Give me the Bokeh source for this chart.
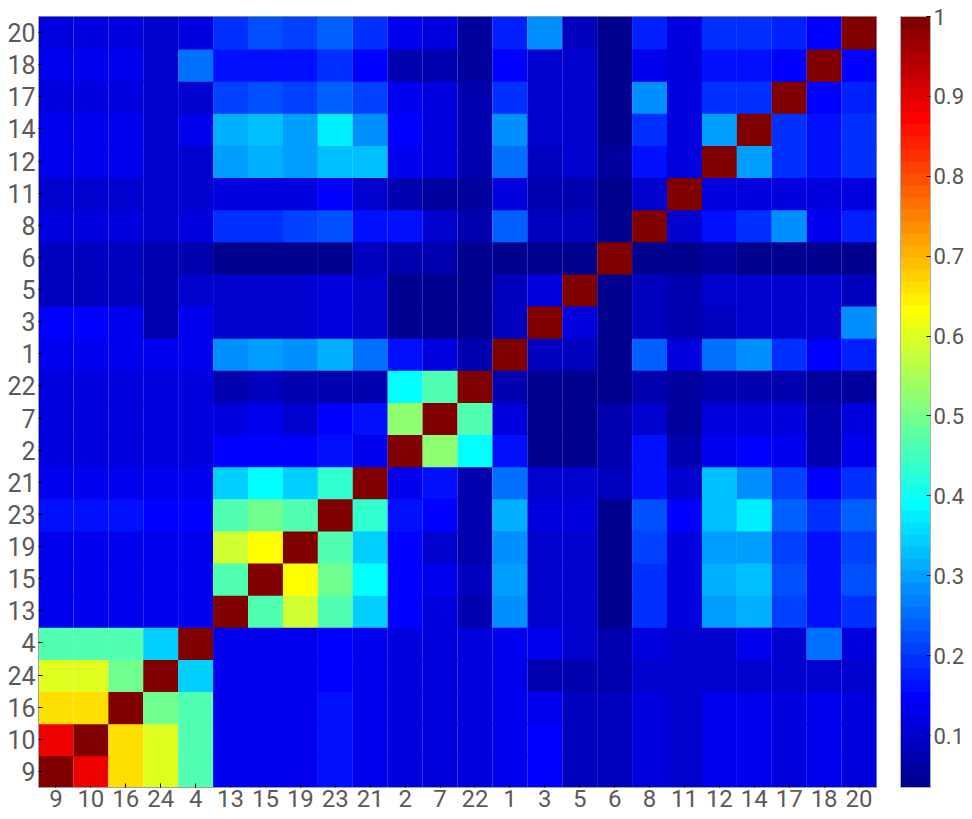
import numpy as np
from bokeh.plotting import figure
from bokeh.models import (ColumnDataSource, LinearColorMapper, ColorBar, FixedTicker,
                          PrintfTickFormatter)
from bokeh.transform import transform
from bokeh.embed import file_html
from bokeh.resources import INLINE

labels = ["9", "10", "16", "24", "4", "13", "15", "19", "23", "21", "2", "7",
          "22", "1", "3", "5", "6", "8", "11", "12", "14", "17", "18", "20"]

# lower-triangle rows (values against the labels that come before each one)
r_10 = [0.88]
r_16 = [0.66, 0.66]
r_24 = [0.60, 0.60, 0.50]
r_4 = [0.46, 0.46, 0.46, 0.35]
r_13 = [0.14, 0.14, 0.14, 0.13, 0.14]
r_15 = [0.14, 0.14, 0.14, 0.13, 0.14, 0.47]
r_19 = [0.14, 0.14, 0.14, 0.13, 0.14, 0.58, 0.63]
r_23 = [0.16, 0.16, 0.16, 0.155, 0.155, 0.46, 0.50, 0.47]
r_21 = [0.14, 0.14, 0.14, 0.13, 0.13, 0.35, 0.39, 0.35, 0.44]
r_2 = [0.12, 0.12, 0.12, 0.12, 0.12, 0.155, 0.155, 0.155, 0.17, 0.14]
r_7 = [0.12, 0.12, 0.12, 0.12, 0.12, 0.12, 0.13, 0.11, 0.155, 0.17, 0.53]
r_22 = [0.12, 0.12, 0.12, 0.12, 0.12, 0.07, 0.09, 0.07, 0.08, 0.07, 0.39, 0.46]
r_1 = [0.13, 0.13, 0.13, 0.13, 0.13, 0.28, 0.30, 0.28, 0.32, 0.26, 0.17, 0.12, 0.07]
r_3 = [0.155, 0.155, 0.14, 0.07, 0.14, 0.11, 0.11, 0.11, 0.12, 0.11, 0.04, 0.04, 0.04, 0.09]
r_5 = [0.09, 0.09, 0.09, 0.08, 0.10, 0.11, 0.11, 0.11, 0.12, 0.11, 0.04, 0.04, 0.04, 0.09, 0.12]
r_6 = [0.09, 0.09, 0.09, 0.08, 0.08, 0.04, 0.04, 0.04, 0.05, 0.085, 0.08, 0.07, 0.05, 0.04, 0.04, 0.04]
r_8 = [0.12, 0.12, 0.12, 0.11, 0.12, 0.20, 0.20, 0.21, 0.22, 0.17, 0.17, 0.11, 0.07, 0.24, 0.09, 0.09, 0.04]
r_11 = [0.10, 0.10, 0.10, 0.11, 0.11, 0.12, 0.12, 0.12, 0.155, 0.10, 0.07, 0.06, 0.06, 0.12, 0.08, 0.08, 0.04, 0.10]
r_12 = [0.13, 0.13, 0.13, 0.11, 0.11, 0.30, 0.32, 0.30, 0.335, 0.335, 0.13, 0.12, 0.07, 0.26, 0.09, 0.10, 0.06, 0.17, 0.12]
r_14 = [0.13, 0.13, 0.13, 0.11, 0.13, 0.31, 0.33, 0.30, 0.37, 0.29, 0.155, 0.12, 0.07, 0.29, 0.11, 0.11, 0.04, 0.20, 0.12, 0.30]
r_17 = [0.12, 0.12, 0.12, 0.11, 0.11, 0.21, 0.22, 0.21, 0.24, 0.21, 0.13, 0.12, 0.07, 0.20, 0.10, 0.10, 0.04, 0.29, 0.12, 0.20, 0.20]
r_18 = [0.14, 0.14, 0.13, 0.11, 0.25, 0.16, 0.16, 0.16, 0.20, 0.155, 0.08, 0.07, 0.06, 0.155, 0.11, 0.11, 0.04, 0.14, 0.12, 0.16, 0.17, 0.155]
r_20 = [0.12, 0.12, 0.12, 0.11, 0.12, 0.20, 0.22, 0.21, 0.24, 0.20, 0.13, 0.12, 0.06, 0.18, 0.29, 0.09, 0.04, 0.18, 0.12, 0.20, 0.20, 0.18, 0.155]

lower = [[], r_10, r_16, r_24, r_4, r_13, r_15, r_19, r_23, r_21, r_2, r_7, r_22,
         r_1, r_3, r_5, r_6, r_8, r_11, r_12, r_14, r_17, r_18, r_20]

cbar_ticks = [0.1, 0.2, 0.3, 0.4, 0.5, 0.6, 0.7, 0.8, 0.9, 1.0]
c_low, c_high = 0.035, 1.0

n = len(labels)
xs, ys, vals = [], [], []
for i in range(n):
    for j in range(n):
        if i == j:
            v = 1.0
        elif j < i:
            v = lower[i][j]
        else:
            v = lower[j][i]
        xs.append(labels[j]); ys.append(labels[i]); vals.append(v)

# MATLAB jet(64) colormap
m = 64
q = 16
u = np.concatenate([np.arange(1, q + 1) / q, np.ones(q - 1), np.arange(q, 0, -1) / q])
g = (q // 2) + np.arange(1, len(u) + 1)
r = g + q
b = g - q
J = np.zeros((m, 3))
J[r[r <= m] - 1, 0] = u[r <= m]
J[g[g <= m] - 1, 1] = u[g <= m]
J[b[b >= 1] - 1, 2] = u[b >= 1]
jet = ["#%02x%02x%02x" % tuple(int(round(c * 255)) for c in row) for row in J]

mapper = LinearColorMapper(palette=jet, low=c_low, high=c_high)
src = ColumnDataSource(dict(x=xs, y=ys, v=vals))

p = figure(width=972, height=819, x_range=labels, y_range=labels,
           output_backend="svg", toolbar_location=None,
           min_border_left=38, min_border_top=16, min_border_bottom=32, min_border_right=96)
p.rect(x="x", y="y", width=1, height=1, source=src,
       fill_color=transform("v", mapper), line_color=None, dilate=True)

p.grid.visible = False
p.outline_line_color = "#a0a0a0"
for ax in (p.xaxis[0], p.yaxis[0]):
    ax.major_label_text_font = "Roboto"
    ax.major_label_text_font_size = "25px"
    ax.major_label_text_color = "#5a5a5a"
    ax.major_tick_in = 4
    ax.major_tick_out = 0
    ax.major_tick_line_color = "black"
    ax.axis_line_color = "#a0a0a0"
p.xaxis[0].major_label_text_font_size = "24px"
p.xaxis[0].major_label_standoff = 2
p.yaxis[0].major_label_standoff = 3

cb = ColorBar(color_mapper=mapper, ticker=FixedTicker(ticks=cbar_ticks),
              formatter=PrintfTickFormatter(format="%g"),
              width=30, height="auto", padding=0, margin=0, location=(24, 0),
              major_label_text_font="Roboto", major_label_text_font_size="22px",
              major_label_text_color="#555555", label_standoff=3,
              major_tick_line_color="black", major_tick_in=4, major_tick_out=0,
              bar_line_color="#b0b0b0")
p.add_layout(cb, "right")

open("out.html", "w").write(file_html(p, INLINE))
